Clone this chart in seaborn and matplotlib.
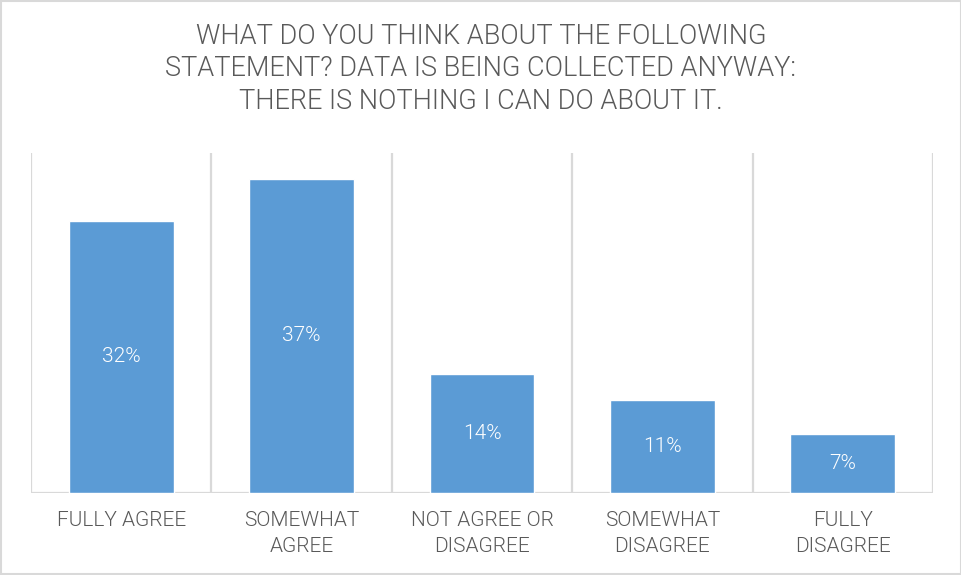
import matplotlib
matplotlib.use("Agg")
import matplotlib.pyplot as plt
import seaborn as sns
from matplotlib.patches import Rectangle

categories = ["FULLY AGREE", "SOMEWHAT\nAGREE", "NOT AGREE OR\nDISAGREE", "SOMEWHAT\nDISAGREE", "FULLY\nDISAGREE"]
values = [32, 37, 14, 11, 7]
value_labels = ["32%", "37%", "14%", "11%", "7%"]
title = ("WHAT DO YOU THINK ABOUT THE FOLLOWING\n"
         "STATEMENT? DATA IS BEING COLLECTED ANYWAY:\n"
         "THERE IS NOTHING I CAN DO ABOUT IT.")

sns.set_theme(style="white")
plt.rcParams["font.family"] = ["Roboto", "DejaVu Sans"]

BAR = "#5B9BD5"
GRID = "#D9D9D9"
TEXT = "#595959"
W = 300  # light weight

fig = plt.figure(figsize=(9.62, 5.75), dpi=100)
ax = fig.add_axes([31 / 962, 82 / 575, 902 / 962, 340 / 575])

sns.barplot(x=categories, y=values, color=BAR, saturation=1, width=0.58, ax=ax)

ax.set_ylim(0, 40)
ax.set_xlim(-0.5, len(categories) - 0.5)
for s in ax.spines.values():
    s.set_visible(False)
ax.axhline(0, color=GRID, lw=1.6, zorder=0)
for b in range(len(categories) + 1):
    ax.axvline(b - 0.5, color=GRID, lw=1.6, zorder=0)

ax.set_yticks([])
ax.set_ylabel("")
ax.set_xlabel("")
ax.tick_params(axis="x", length=0, pad=13)
ax.set_xticks(range(len(categories)))
ax.set_xticklabels(categories, fontsize=15, color=TEXT, fontweight=W,
                   linespacing=1.45)

for i, (v, lab) in enumerate(zip(values, value_labels)):
    ax.text(i, v / 2, lab, ha="center", va="center", color="white",
            fontsize=15, fontweight=W)

fig.text(0.5, 1 - 69 / 575, title, ha="center", va="center", fontsize=19.5,
         color=TEXT, fontweight=W, linespacing=1.25)

fig.patches.append(Rectangle((0.001, 0.001), 0.998, 0.997, transform=fig.transFigure,
                             fill=False, edgecolor=GRID, lw=1.5))

fig.savefig("out.png", dpi=100)
